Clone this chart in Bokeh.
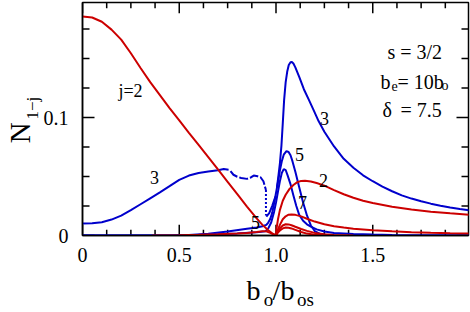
from bokeh.plotting import figure
from bokeh.models import LinearAxis, FixedTicker, Label, Range1d
from bokeh.embed import file_html
from bokeh.resources import INLINE

# ---------------- data ----------------
red2_left_x = [0, 0.05, 0.1, 0.15, 0.2, 0.25, 0.3, 0.35, 0.4, 0.45, 0.5, 0.55, 0.6, 0.65, 0.7, 0.75, 0.8, 0.85, 0.9, 0.93, 0.96, 0.98, 1.0]
red2_left_y = [0.1857, 0.1848, 0.1812, 0.1745, 0.166, 0.1545, 0.142, 0.13, 0.119, 0.108, 0.0975, 0.087, 0.0768, 0.0665, 0.056, 0.0455, 0.035, 0.0245, 0.0145, 0.009, 0.0045, 0.0018, 0.0]
red2_right_x = [1.0, 1.003, 1.01, 1.02, 1.035, 1.05, 1.07, 1.09, 1.11, 1.13, 1.15, 1.18, 1.21, 1.25, 1.3, 1.35, 1.4, 1.45, 1.5, 1.6, 1.7, 1.8, 1.9, 2.0]
red2_right_y = [0.0, 0.006, 0.0135, 0.0215, 0.0295, 0.0345, 0.0395, 0.0428, 0.0452, 0.0463, 0.0465, 0.0458, 0.0445, 0.0423, 0.0385, 0.035, 0.032, 0.0295, 0.0275, 0.0243, 0.022, 0.0202, 0.0188, 0.0176]
red4_x = [1.0, 1.01, 1.02, 1.035, 1.05, 1.065, 1.08, 1.1, 1.13, 1.16, 1.2, 1.25, 1.3, 1.35, 1.4, 1.5, 1.6, 1.7, 1.8, 1.9, 2.0]
red4_y = [0.0, 0.005, 0.009, 0.0138, 0.0163, 0.0176, 0.0179, 0.0175, 0.0162, 0.0142, 0.0118, 0.0095, 0.0079, 0.0067, 0.0057, 0.0044, 0.0035, 0.0028, 0.0023, 0.0019, 0.0016]
red6_x = [1.0, 1.01, 1.02, 1.035, 1.05, 1.065, 1.08, 1.1, 1.13, 1.16, 1.2, 1.25, 1.3, 1.4]
red6_y = [0.0, 0.0035, 0.006, 0.0085, 0.0095, 0.0094, 0.0087, 0.0074, 0.0055, 0.0039, 0.0022, 0.001, 0.0004, 0.0]
red8_x = [1.0, 1.01, 1.02, 1.035, 1.05, 1.065, 1.08, 1.1, 1.13, 1.16, 1.2, 1.25]
red8_y = [0.0, 0.0025, 0.0042, 0.006, 0.0068, 0.0066, 0.006, 0.0048, 0.003, 0.0016, 0.0006, 0.0]
red4_left_x = [0.36, 0.5, 0.6, 0.7, 0.8, 0.85, 0.9, 0.93, 0.95, 0.97, 1.0]
red4_left_y = [0.0, 0.0003, 0.0006, 0.001, 0.0017, 0.0022, 0.003, 0.0037, 0.0035, 0.0022, 0.0]

blue3_a_x = [0, 0.05, 0.1, 0.15, 0.2, 0.25, 0.3, 0.35, 0.4, 0.45, 0.5, 0.55, 0.6, 0.65, 0.7, 0.73, 0.755]
blue3_a_y = [0.0101, 0.0104, 0.0113, 0.0135, 0.0168, 0.0215, 0.0265, 0.0315, 0.0365, 0.0418, 0.0472, 0.0508, 0.053, 0.0542, 0.0553, 0.0563, 0.0558]
blue3_b_x = [0.765, 0.78, 0.8, 0.82, 0.85, 0.87, 0.885, 0.905, 0.92, 0.935, 0.948]
blue3_b_y = [0.0545, 0.0515, 0.0498, 0.0487, 0.048, 0.0492, 0.0508, 0.0502, 0.0494, 0.046, 0.0385]
blue3_c_x = [0.948, 0.948]
blue3_c_y = [0.0385, 0.017]
blue3_d_x = [0.95, 0.965, 0.98, 0.997]
blue3_d_y = [0.016, 0.019, 0.025, 0.033]
blue3_e_x = [1.005, 1.012, 1.02, 1.028, 1.035, 1.042, 1.05, 1.058, 1.066, 1.075, 1.082, 1.09, 1.1, 1.12, 1.144, 1.17, 1.195, 1.22, 1.25, 1.3, 1.35, 1.4, 1.45, 1.5, 1.55, 1.6, 1.65, 1.7, 1.75, 1.8, 1.85, 1.9, 1.95, 2.0]
blue3_e_y = [0.041, 0.05, 0.061, 0.076, 0.095, 0.115, 0.13, 0.139, 0.1445, 0.1468, 0.147, 0.1458, 0.1425, 0.1345, 0.124, 0.115, 0.106, 0.097, 0.088, 0.0755, 0.065, 0.0575, 0.051, 0.046, 0.0415, 0.0375, 0.034, 0.0313, 0.029, 0.027, 0.0253, 0.0238, 0.0225, 0.0213]
blue5_x = [0, 0.45, 0.55, 0.65, 0.75, 0.85, 0.9, 0.93, 0.95, 0.96, 0.97, 0.98, 0.99, 1.0, 1.01, 1.02, 1.03, 1.04, 1.054, 1.065, 1.075, 1.085, 1.1, 1.12, 1.14, 1.16, 1.18, 1.2, 1.23, 1.27, 1.3]
blue5_y = [0, 0, 0.0005, 0.0014, 0.0033, 0.0057, 0.0068, 0.0078, 0.009, 0.011, 0.014, 0.019, 0.027, 0.036, 0.045, 0.055, 0.063, 0.0685, 0.0715, 0.0708, 0.068, 0.063, 0.054, 0.041, 0.028, 0.017, 0.0085, 0.0038, 0.0012, 0.0002, 0.0]
blue7_x = [0, 0.5, 0.6, 0.7, 0.8, 0.9, 0.945, 0.96, 0.975, 0.99, 1.0, 1.01, 1.02, 1.03, 1.04, 1.05, 1.06, 1.074, 1.09, 1.105, 1.12, 1.14, 1.16, 1.18, 1.21, 1.25, 1.3, 1.4, 1.5, 1.6, 1.8, 2.0]
blue7_y = [0, 0, 0.0004, 0.001, 0.0018, 0.0028, 0.0035, 0.006, 0.011, 0.02, 0.028, 0.037, 0.046, 0.053, 0.0563, 0.0555, 0.051, 0.044, 0.034, 0.025, 0.0175, 0.0125, 0.0095, 0.0075, 0.0052, 0.0034, 0.0022, 0.0012, 0.0008, 0.0005, 0.0003, 0.0002]

x_major = [0, 0.5, 1.0, 1.5]
x_labels = ["0", "0.5", "1.0", "1.5"]
x_minor = [0.125, 0.25, 0.375, 0.625, 0.75, 0.875, 1.125, 1.25, 1.375, 1.625, 1.75, 1.875]
y_major = [0, 0.1]
y_labels = ["0", "0.1"]
y_minor = [0.025, 0.05, 0.075, 0.125, 0.15, 0.175]

# axis titles, split into normal and subscript parts
x_title_main = ["b", "/b"]
x_title_sub = ["o", "os"]
y_title_main = ["N"]
y_title_sub = ["1\u2212j"]

# ---------------- layout ----------------
PX_X = 193.5     # pixels per unit x
PX_Y = 1205.0    # pixels per unit y
FRAME_L = 82
FRAME_B = 240
X_END = 386 / PX_X
Y_END = 238 / PX_Y
RED = "#cc0000"
BLUE = "#0000cc"
FONT = "Liberation Serif"


def dx(px):
    return round((px - FRAME_L) / PX_X, 4)


def dy(py):
    return round((FRAME_B - py) / PX_Y, 4)


p = figure(width=470, height=312, output_backend="svg", toolbar_location=None,
           x_range=Range1d(0, X_END), y_range=Range1d(0, Y_END),
           min_border_left=FRAME_L, min_border_right=2, min_border_top=2, min_border_bottom=72,
           x_axis_type=None, y_axis_type=None)
p.grid.visible = False
p.outline_line_color = "black"
p.outline_line_width = 1.5
p.background_fill_color = "white"
p.border_fill_color = "white"


def make_axis(major, labels, standoff):
    ax = LinearAxis(ticker=FixedTicker(ticks=major, minor_ticks=[]))
    ax.axis_line_color = "black"
    ax.axis_line_width = 1.5
    ax.major_tick_line_color = None
    ax.minor_tick_line_color = None
    ax.major_tick_in = 0
    ax.major_tick_out = 0
    ax.minor_tick_in = 0
    ax.minor_tick_out = 0
    ax.major_label_overrides = {t: s for t, s in zip(major, labels)}
    ax.major_label_text_font = FONT
    ax.major_label_text_font_size = "20px"
    ax.major_label_text_color = "black"
    ax.major_label_standoff = standoff
    return ax


def title_axis(positions, texts, size, standoff, align, orientation="horizontal"):
    ax = LinearAxis(ticker=FixedTicker(ticks=positions, minor_ticks=[]))
    ax.major_label_overrides = {t: s for t, s in zip(positions, texts)}
    ax.axis_line_color = None
    ax.major_tick_line_color = None
    ax.minor_tick_line_color = None
    ax.major_tick_in = 0
    ax.major_tick_out = 0
    ax.minor_tick_in = 0
    ax.minor_tick_out = 0
    ax.major_label_text_font = FONT
    ax.major_label_text_font_size = f"{size}px"
    ax.major_label_text_color = "black"
    ax.major_label_standoff = standoff
    ax.major_label_orientation = orientation
    if align is not None:
        ax.major_label_text_align = align
    return ax


p.add_layout(make_axis(x_major, x_labels, 12), "below")
p.add_layout(title_axis([dx(253), dx(283)], x_title_main, 28, 10, "left"), "below")
p.add_layout(title_axis([dx(268), dx(305)], x_title_sub, 19, -20, "left"), "below")

p.add_layout(make_axis(y_major, y_labels, 14), "left")
p.add_layout(title_axis([dy(110)], y_title_sub, 17, -2, None, "vertical"), "left")
p.add_layout(title_axis([dy(135)], y_title_main, 29, -16, None, "vertical"), "left")

# inward tick marks on all four sides of the frame, built from the tick lists
MAJ = 11
MIN = 6
tick_xs, tick_ys = [], []
for ticks, ln in ((x_major, MAJ), (x_minor, MIN)):
    for t in ticks:
        tick_xs += [[t, t], [t, t]]
        tick_ys += [[0, ln / PX_Y], [Y_END, Y_END - ln / PX_Y]]
for ticks, ln in ((y_major, MAJ + 1), (y_minor, MIN + 1)):
    for t in ticks:
        tick_xs += [[0, ln / PX_X], [X_END, X_END - ln / PX_X]]
        tick_ys += [[t, t], [t, t]]
p.multi_line(xs=tick_xs, ys=tick_ys, line_color="black", line_width=1.5)

LW = 2
p.line(blue3_a_x, blue3_a_y, line_color=BLUE, line_width=LW)
p.line(blue3_b_x, blue3_b_y, line_color=BLUE, line_width=LW, line_dash="9 2")
p.line(blue3_c_x, blue3_c_y, line_color=BLUE, line_width=LW, line_dash="2 2")
p.line(blue3_d_x, blue3_d_y, line_color=BLUE, line_width=LW)
p.line(blue3_e_x, blue3_e_y, line_color=BLUE, line_width=LW)
p.line(blue5_x, blue5_y, line_color=BLUE, line_width=LW)
p.line(blue7_x, blue7_y, line_color=BLUE, line_width=LW)
p.line(red2_left_x, red2_left_y, line_color=RED, line_width=LW)
p.line(red2_right_x, red2_right_y, line_color=RED, line_width=LW)
p.line(red4_x, red4_y, line_color=RED, line_width=LW)
p.line(red6_x, red6_y, line_color=RED, line_width=LW)
p.line(red8_x, red8_y, line_color=RED, line_width=LW)
p.line(red4_left_x, red4_left_y, line_color=RED, line_width=LW)


def lab(text, px, py, size, align="left", baseline="alphabetic"):
    p.add_layout(Label(x=dx(px), y=dy(py), text=text, text_font=FONT,
                       text_font_size=f"{size}px", text_color="black",
                       text_align=align, text_baseline=baseline))


# curve labels
lab("j=2", 130, 92, 18, "center", "middle")
lab("3", 154, 181, 18, "center", "middle")
lab("5", 255, 227, 18, "center", "middle")
lab("3", 324, 121, 18, "center", "middle")
lab("5", 299, 157, 18, "center", "middle")
lab("2", 323, 184, 18, "center", "middle")
lab("7", 302, 206, 18, "center", "middle")

# parameter block
lab("s = 3/2", 387, 53, 20)
lab("b", 380, 83, 20)
lab("e", 391, 87, 14)
lab("= 10b", 397, 83, 20)
lab("o", 441, 87, 14)
lab("\u03b4", 382, 112, 20)
lab("= 7.5", 400, 112, 20)

open("out.html", "w").write(file_html(p, INLINE))
